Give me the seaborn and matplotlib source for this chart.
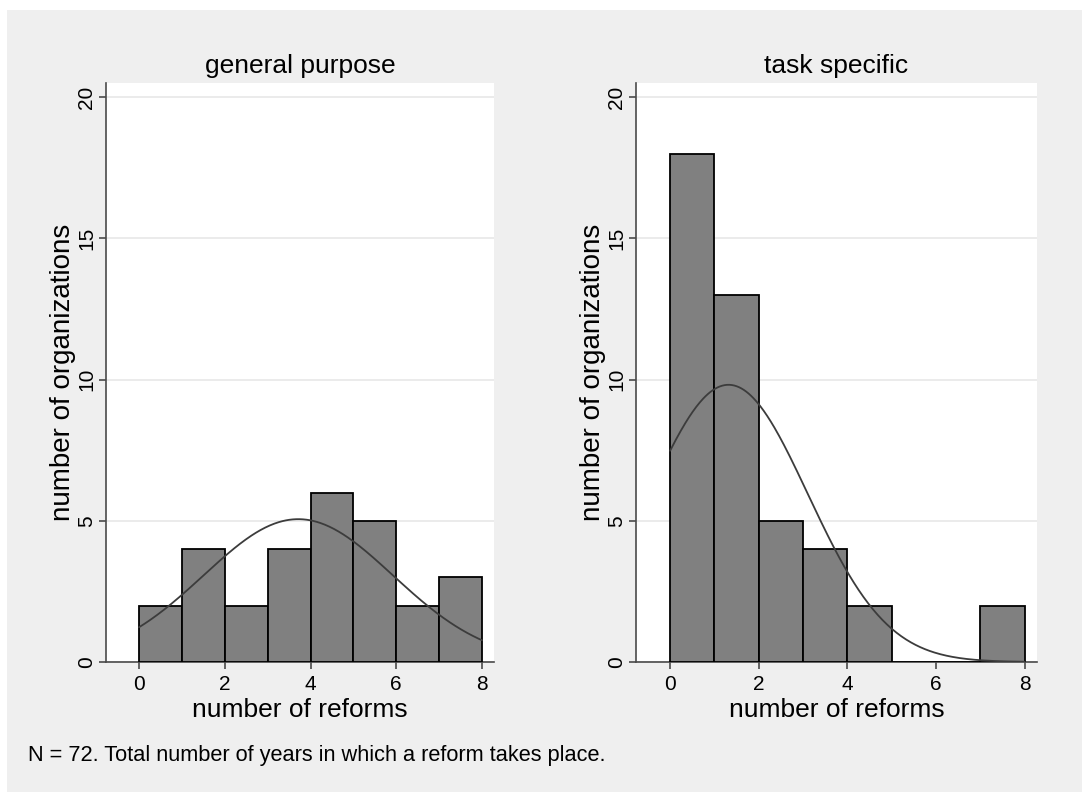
import numpy as np
import pandas as pd
import matplotlib
matplotlib.use("Agg")
import matplotlib.pyplot as plt
from matplotlib.patches import Rectangle
import seaborn as sns

# number of reforms (distinct values) and how many organizations have each value
reform_values = [0, 1, 2, 3, 4, 5, 6, 7, 8]
general_counts = [2, 4, 2, 4, 6, 5, 2, 1, 2]
task_counts = [18, 13, 5, 4, 2, 0, 0, 1, 1]
panel_titles = ["general purpose", "task specific"]
x_ticks = [0, 2, 4, 6, 8]
y_ticks = [0, 5, 10, 15, 20]
x_label = "number of reforms"
y_label = "number of organizations"
note = "N = 72. Total number of years in which a reform takes place."

sns.set_theme(style="white")
plt.rcParams["font.family"] = ["Liberation Sans", "DejaVu Sans"]

W, H = 1082, 792
fig = plt.figure(figsize=(W / 100, H / 100), dpi=100, facecolor="white")
fig.patches.append(Rectangle((7 / W, 0), 1 - 7 / W, (H - 10) / H, transform=fig.transFigure,
                             facecolor="#efefef", edgecolor="none", zorder=-10))

positions = [
    [106 / W, (H - 662) / H, (494 - 106) / W, (662 - 83) / H],
    [636 / W, (H - 662) / H, (1037 - 636) / W, (662 - 83) / H],
]

for pos, title, counts in zip(positions, panel_titles, [general_counts, task_counts]):
    ax = fig.add_axes(pos)
    ax.set_facecolor("white")
    vals = np.repeat(reform_values, counts).astype(float)
    df = pd.DataFrame({"reforms": vals})
    sns.histplot(data=df, x="reforms", bins=8, binrange=(0, 8), ax=ax,
                 color="#808080", alpha=1, edgecolor="black", linewidth=1.3, zorder=3)
    # normal density overlay from the sample mean / sd, scaled to counts
    mu, sd = vals.mean(), vals.std(ddof=1)
    xs = np.linspace(0, 8, 300)
    ys = len(vals) * 1.0 * np.exp(-0.5 * ((xs - mu) / sd) ** 2) / (sd * np.sqrt(2 * np.pi))
    sns.lineplot(x=xs, y=ys, ax=ax, color="#3c3c3c", linewidth=1.3, zorder=4)

    ax.set_xlim(-0.77, 8.28)
    ax.set_ylim(0, 20.5)
    ax.set_xticks(x_ticks)
    ax.set_yticks(y_ticks)
    ax.set_yticklabels([str(t) for t in y_ticks], rotation=90, va="center")
    ax.yaxis.grid(True, color="#e8e8e8", linewidth=1.2, zorder=0)
    ax.set_axisbelow(True)
    for s in ["top", "right"]:
        ax.spines[s].set_visible(False)
    for s in ["left", "bottom"]:
        ax.spines[s].set_color("#4a4a4a")
        ax.spines[s].set_linewidth(1.2)
    ax.tick_params(axis="both", direction="out", length=5, width=1.2, color="#4a4a4a",
                   labelsize=15, labelcolor="black", bottom=True, left=True)
    ax.tick_params(axis="x", pad=4)
    ax.tick_params(axis="y", pad=2)
    ax.set_xlabel(x_label, fontsize=19, labelpad=3, color="black")
    ax.set_ylabel(y_label, fontsize=20, labelpad=1, color="black")
    ax.set_title(title, fontsize=19, pad=7, color="black")

fig.text(28 / W, (H - 755) / H, note, fontsize=15.7, va="center", ha="left", color="black")

fig.savefig("out.png", dpi=100, facecolor=fig.get_facecolor())
